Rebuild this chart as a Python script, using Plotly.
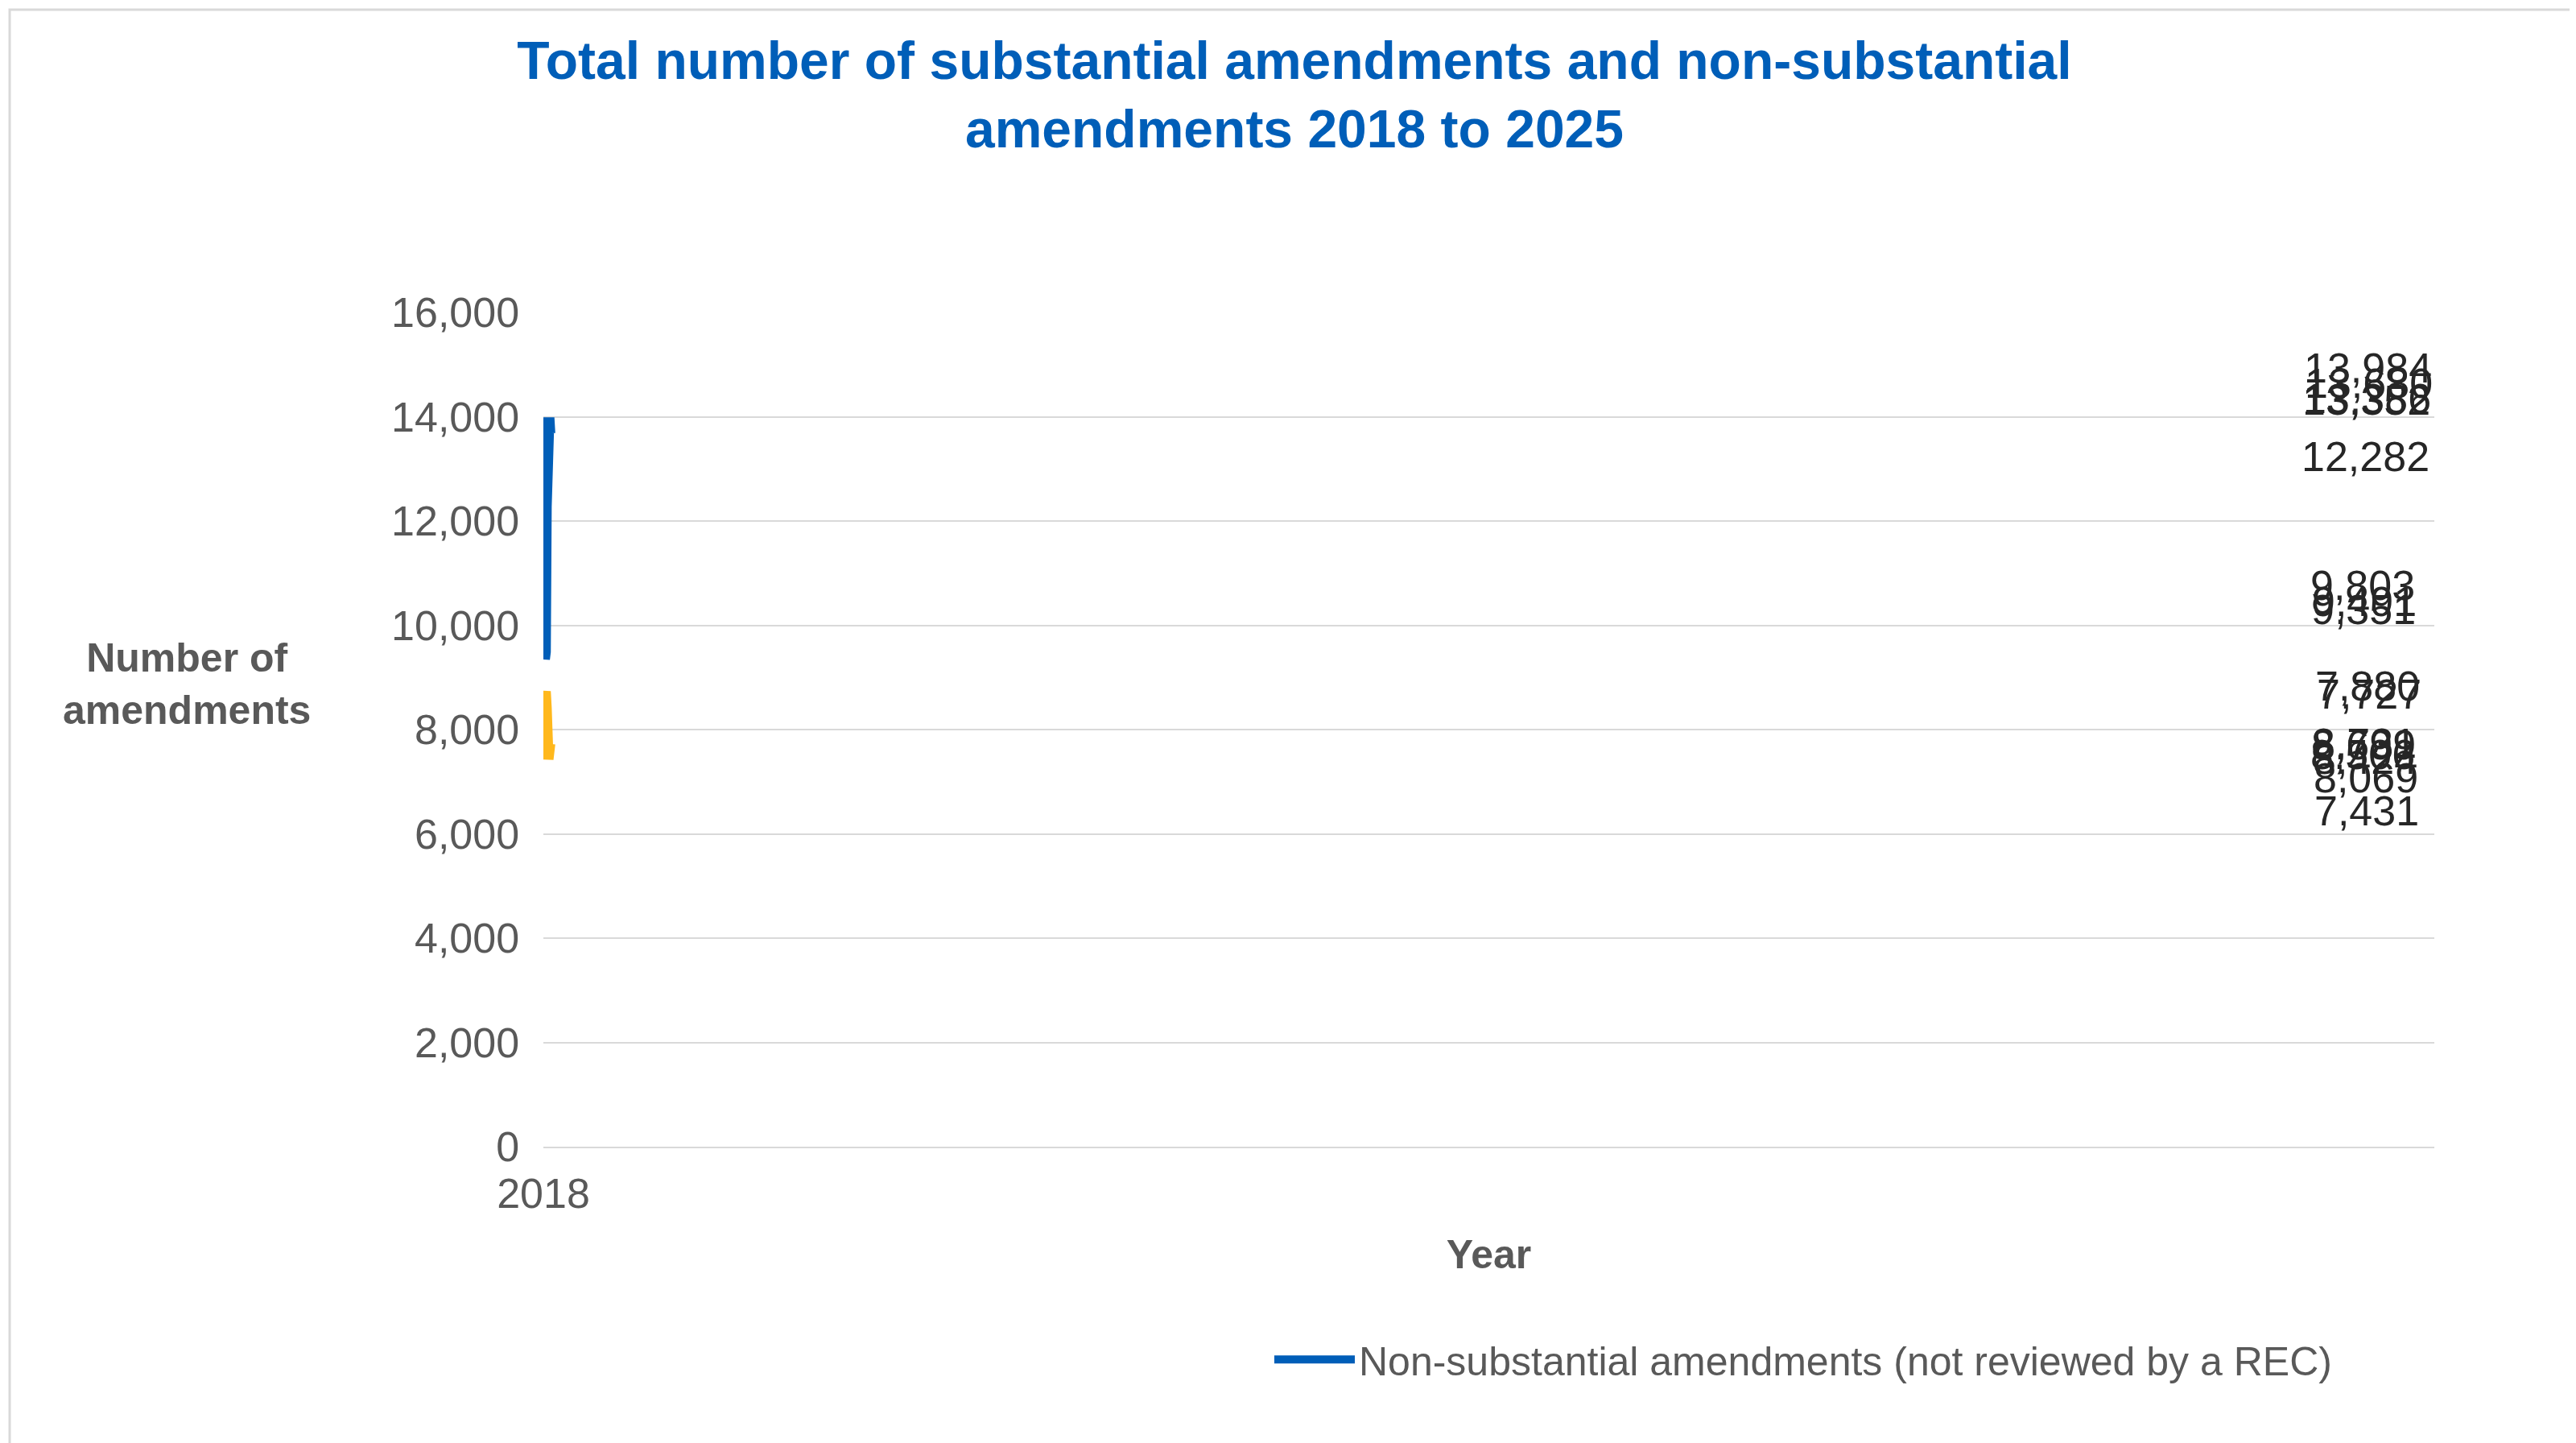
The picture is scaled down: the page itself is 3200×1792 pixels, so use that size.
import plotly.graph_objects as go

years = ["2018", "2019", "2020", "2021", "2022", "2023", "2024", "2025"]
substantial = [8506, 8699, 8731, 8424, 8069, 7431, 7880, 7727]
non_substantial = [9803, 9351, 9491, 12282, 13352, 13386, 13984, 13680]
sub_above = [False] * 6 + [True] * 2

font = "Liberation Sans, Arial, sans-serif"
fig = go.Figure()
fig.add_trace(go.Scatter(x=years, y=substantial, mode="lines",
    name="Substantial amendments (reviewed by a REC)",
    line=dict(color="#FFB81C", width=14), legend="legend"))
fig.add_trace(go.Scatter(x=years, y=non_substantial, mode="lines",
    name="Non-substantial amendments (not reviewed by a REC)",
    line=dict(color="#005EB8", width=14), legend="legend2"))

anns = []
for x, v, up in zip(years, substantial, sub_above):
    anns.append(dict(x=x, y=v, text=f"{v:,}", showarrow=False, yshift=62 if up else -64,
                     font=dict(size=52, color="#262626")))
for x, v in zip(years, non_substantial):
    anns.append(dict(x=x, y=v, text=f"{v:,}", showarrow=False, yshift=62,
                     font=dict(size=52, color="#262626")))
anns.append(dict(text="<b>Number of<br>amendments</b>", xref="paper", yref="paper",
                 x=-(667 - 224) / 2349, y=0.555, xanchor="center", showarrow=False,
                 font=dict(size=50, color="#595959")))

legfont = dict(size=50, color="#595959")
fig.update_layout(
    width=3200, height=1792, paper_bgcolor="white", plot_bgcolor="white",
    margin=dict(l=667, r=184, t=380, b=376),
    font=dict(family=font, color="#595959"),
    title=dict(text="Total number of substantial amendments and non-substantial<br>amendments 2018 to 2025",
               x=0.5, xanchor="center", y=0.95, yanchor="top",
               font=dict(size=66, color="#005EB8", family=font, weight="bold")),
    xaxis=dict(showgrid=False, showline=True, linecolor="#d9d9d9", linewidth=2,
               tickfont=dict(size=52, color="#595959"), ticks="outside", ticklen=12,
               tickcolor="rgba(0,0,0,0)",
               title=dict(text="<b>Year</b>", font=dict(size=50, color="#595959"), standoff=30)),
    yaxis=dict(range=[0, 16000], dtick=2000, tickformat=",", showgrid=True,
               gridcolor="#d9d9d9", gridwidth=2, zeroline=False,
               tickfont=dict(size=52, color="#595959"), ticksuffix="  "),
    legend=dict(orientation="h", x=(270 - 667) / 2349, xanchor="left", y=-0.255, yanchor="middle",
                font=legfont, itemwidth=100),
    legend2=dict(orientation="h", x=(1570 - 667) / 2349, xanchor="left", y=-0.255, yanchor="middle",
                 font=legfont, itemwidth=100),
    shapes=[dict(type="rect", xref="paper", yref="paper", x0=-(667 - 4) / 2349, x1=1 + (184 - 4) / 2349,
                 y0=-(376 - 4) / 1036, y1=1 + (380 - 4) / 1036, line=dict(color="#d9d9d9", width=3))],
    annotations=anns,
)
fig.write_html("out.html")
